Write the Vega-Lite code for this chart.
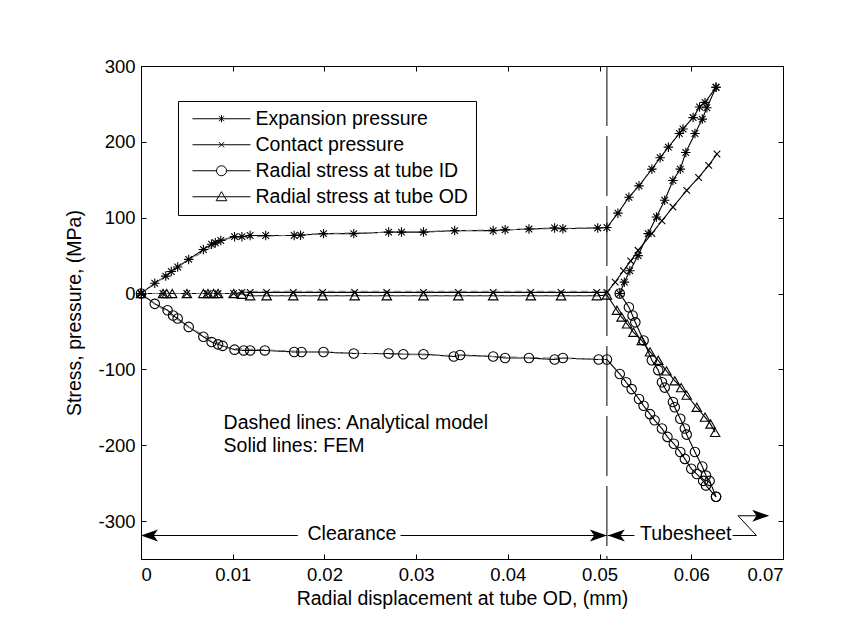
{
  "$schema": "https://vega.github.io/schema/vega-lite/v6.json",
  "width": 642,
  "height": 493,
  "autosize": {"type": "none"},
  "padding": {"left": 141, "top": 66, "right": 83, "bottom": 84},
  "background": "white",
  "config": {
    "font": "Liberation Sans",
    "view": {"stroke": "black", "strokeWidth": 1},
    "axis": {"domainColor": "black", "tickColor": "black", "labelColor": "black", "titleColor": "black", "grid": false, "labelFontSize": 18.5, "titleFontSize": 19.5, "titleFontWeight": "normal", "labelFont": "Liberation Sans", "titleFont": "Liberation Sans"}
  },
  "datasets": {
    "main": [
      {"series":"Expansion pressure","method":"FEM","branch":"a","x":0,"y":0},
      {"series":"Expansion pressure","method":"FEM","branch":"a","x":0.0015,"y":13.6},
      {"series":"Expansion pressure","method":"FEM","branch":"a","x":0.0027,"y":23},
      {"series":"Expansion pressure","method":"FEM","branch":"a","x":0.0033,"y":29},
      {"series":"Expansion pressure","method":"FEM","branch":"a","x":0.004,"y":35},
      {"series":"Expansion pressure","method":"FEM","branch":"a","x":0.0052,"y":45},
      {"series":"Expansion pressure","method":"FEM","branch":"a","x":0.0068,"y":58},
      {"series":"Expansion pressure","method":"FEM","branch":"a","x":0.0077,"y":65},
      {"series":"Expansion pressure","method":"FEM","branch":"a","x":0.0081,"y":67},
      {"series":"Expansion pressure","method":"FEM","branch":"a","x":0.0087,"y":70},
      {"series":"Expansion pressure","method":"FEM","branch":"a","x":0.0102,"y":75},
      {"series":"Expansion pressure","method":"FEM","branch":"a","x":0.011,"y":75},
      {"series":"Expansion pressure","method":"FEM","branch":"a","x":0.0119,"y":76.5},
      {"series":"Expansion pressure","method":"FEM","branch":"a","x":0.0136,"y":76.5},
      {"series":"Expansion pressure","method":"FEM","branch":"a","x":0.0167,"y":76.5},
      {"series":"Expansion pressure","method":"FEM","branch":"a","x":0.0174,"y":77},
      {"series":"Expansion pressure","method":"FEM","branch":"a","x":0.0199,"y":79},
      {"series":"Expansion pressure","method":"FEM","branch":"a","x":0.0232,"y":79},
      {"series":"Expansion pressure","method":"FEM","branch":"a","x":0.027,"y":81},
      {"series":"Expansion pressure","method":"FEM","branch":"a","x":0.0284,"y":81},
      {"series":"Expansion pressure","method":"FEM","branch":"a","x":0.0308,"y":81},
      {"series":"Expansion pressure","method":"FEM","branch":"a","x":0.0342,"y":83},
      {"series":"Expansion pressure","method":"FEM","branch":"a","x":0.0384,"y":83},
      {"series":"Expansion pressure","method":"FEM","branch":"a","x":0.0397,"y":84},
      {"series":"Expansion pressure","method":"FEM","branch":"a","x":0.0423,"y":85},
      {"series":"Expansion pressure","method":"FEM","branch":"a","x":0.0451,"y":86.5},
      {"series":"Expansion pressure","method":"FEM","branch":"a","x":0.046,"y":85.5},
      {"series":"Expansion pressure","method":"FEM","branch":"a","x":0.0498,"y":86.5},
      {"series":"Expansion pressure","method":"FEM","branch":"a","x":0.0508,"y":87},
      {"series":"Expansion pressure","method":"FEM","branch":"a","x":0.052,"y":106},
      {"series":"Expansion pressure","method":"FEM","branch":"a","x":0.0532,"y":127},
      {"series":"Expansion pressure","method":"FEM","branch":"a","x":0.0543,"y":142},
      {"series":"Expansion pressure","method":"FEM","branch":"a","x":0.0557,"y":164},
      {"series":"Expansion pressure","method":"FEM","branch":"a","x":0.0566,"y":179},
      {"series":"Expansion pressure","method":"FEM","branch":"a","x":0.0575,"y":193},
      {"series":"Expansion pressure","method":"FEM","branch":"a","x":0.0587,"y":211},
      {"series":"Expansion pressure","method":"FEM","branch":"a","x":0.0591,"y":217},
      {"series":"Expansion pressure","method":"FEM","branch":"a","x":0.0602,"y":232},
      {"series":"Expansion pressure","method":"FEM","branch":"a","x":0.0609,"y":246},
      {"series":"Expansion pressure","method":"FEM","branch":"a","x":0.0615,"y":252},
      {"series":"Expansion pressure","method":"FEM","branch":"a","x":0.0627,"y":272},
      {"series":"Expansion pressure","method":"FEM","branch":"b","x":0.0522,"y":0},
      {"series":"Expansion pressure","method":"FEM","branch":"b","x":0.0527,"y":15},
      {"series":"Expansion pressure","method":"FEM","branch":"b","x":0.0533,"y":30},
      {"series":"Expansion pressure","method":"FEM","branch":"b","x":0.0542,"y":50},
      {"series":"Expansion pressure","method":"FEM","branch":"b","x":0.0553,"y":79},
      {"series":"Expansion pressure","method":"FEM","branch":"b","x":0.0562,"y":101},
      {"series":"Expansion pressure","method":"FEM","branch":"b","x":0.0571,"y":123},
      {"series":"Expansion pressure","method":"FEM","branch":"b","x":0.058,"y":149},
      {"series":"Expansion pressure","method":"FEM","branch":"b","x":0.0588,"y":164},
      {"series":"Expansion pressure","method":"FEM","branch":"b","x":0.0594,"y":186},
      {"series":"Expansion pressure","method":"FEM","branch":"b","x":0.0604,"y":211},
      {"series":"Expansion pressure","method":"FEM","branch":"b","x":0.0612,"y":230},
      {"series":"Expansion pressure","method":"FEM","branch":"b","x":0.0617,"y":245},
      {"series":"Expansion pressure","method":"FEM","branch":"b","x":0.0627,"y":272},
      {"series":"Contact pressure","method":"FEM","branch":"a","x":0,"y":0},
      {"series":"Contact pressure","method":"FEM","branch":"a","x":0.0024,"y":0},
      {"series":"Contact pressure","method":"FEM","branch":"a","x":0.005,"y":0},
      {"series":"Contact pressure","method":"FEM","branch":"a","x":0.0073,"y":0},
      {"series":"Contact pressure","method":"FEM","branch":"a","x":0.0084,"y":0},
      {"series":"Contact pressure","method":"FEM","branch":"a","x":0.0101,"y":0},
      {"series":"Contact pressure","method":"FEM","branch":"a","x":0.011,"y":1.5},
      {"series":"Contact pressure","method":"FEM","branch":"a","x":0.0119,"y":1.5},
      {"series":"Contact pressure","method":"FEM","branch":"a","x":0.0137,"y":1.5},
      {"series":"Contact pressure","method":"FEM","branch":"a","x":0.0166,"y":1.5},
      {"series":"Contact pressure","method":"FEM","branch":"a","x":0.0198,"y":1.5},
      {"series":"Contact pressure","method":"FEM","branch":"a","x":0.0233,"y":1.5},
      {"series":"Contact pressure","method":"FEM","branch":"a","x":0.0268,"y":1.5},
      {"series":"Contact pressure","method":"FEM","branch":"a","x":0.0308,"y":1.5},
      {"series":"Contact pressure","method":"FEM","branch":"a","x":0.0346,"y":1.5},
      {"series":"Contact pressure","method":"FEM","branch":"a","x":0.0384,"y":1.5},
      {"series":"Contact pressure","method":"FEM","branch":"a","x":0.0425,"y":1.5},
      {"series":"Contact pressure","method":"FEM","branch":"a","x":0.0458,"y":1.5},
      {"series":"Contact pressure","method":"FEM","branch":"a","x":0.0497,"y":1.5},
      {"series":"Contact pressure","method":"FEM","branch":"a","x":0.0508,"y":1.5},
      {"series":"Contact pressure","method":"FEM","branch":"a","x":0.0517,"y":15},
      {"series":"Contact pressure","method":"FEM","branch":"a","x":0.0526,"y":30},
      {"series":"Contact pressure","method":"FEM","branch":"a","x":0.0534,"y":43},
      {"series":"Contact pressure","method":"FEM","branch":"a","x":0.0542,"y":57},
      {"series":"Contact pressure","method":"FEM","branch":"a","x":0.0557,"y":79},
      {"series":"Contact pressure","method":"FEM","branch":"a","x":0.0568,"y":96},
      {"series":"Contact pressure","method":"FEM","branch":"a","x":0.058,"y":114},
      {"series":"Contact pressure","method":"FEM","branch":"a","x":0.0595,"y":136},
      {"series":"Contact pressure","method":"FEM","branch":"a","x":0.0608,"y":153},
      {"series":"Contact pressure","method":"FEM","branch":"a","x":0.0619,"y":169},
      {"series":"Contact pressure","method":"FEM","branch":"a","x":0.0628,"y":184},
      {"series":"Radial stress at tube OD","method":"FEM","branch":"a","x":0,"y":0},
      {"series":"Radial stress at tube OD","method":"FEM","branch":"a","x":0.0024,"y":0},
      {"series":"Radial stress at tube OD","method":"FEM","branch":"a","x":0.0028,"y":0},
      {"series":"Radial stress at tube OD","method":"FEM","branch":"a","x":0.0034,"y":0},
      {"series":"Radial stress at tube OD","method":"FEM","branch":"a","x":0.005,"y":0},
      {"series":"Radial stress at tube OD","method":"FEM","branch":"a","x":0.0068,"y":0},
      {"series":"Radial stress at tube OD","method":"FEM","branch":"a","x":0.0073,"y":0},
      {"series":"Radial stress at tube OD","method":"FEM","branch":"a","x":0.0079,"y":0},
      {"series":"Radial stress at tube OD","method":"FEM","branch":"a","x":0.0084,"y":0},
      {"series":"Radial stress at tube OD","method":"FEM","branch":"a","x":0.0101,"y":0},
      {"series":"Radial stress at tube OD","method":"FEM","branch":"a","x":0.011,"y":-1},
      {"series":"Radial stress at tube OD","method":"FEM","branch":"a","x":0.0119,"y":-3},
      {"series":"Radial stress at tube OD","method":"FEM","branch":"a","x":0.0137,"y":-3},
      {"series":"Radial stress at tube OD","method":"FEM","branch":"a","x":0.0166,"y":-3},
      {"series":"Radial stress at tube OD","method":"FEM","branch":"a","x":0.0198,"y":-3},
      {"series":"Radial stress at tube OD","method":"FEM","branch":"a","x":0.0233,"y":-3},
      {"series":"Radial stress at tube OD","method":"FEM","branch":"a","x":0.0268,"y":-3},
      {"series":"Radial stress at tube OD","method":"FEM","branch":"a","x":0.0308,"y":-3},
      {"series":"Radial stress at tube OD","method":"FEM","branch":"a","x":0.0346,"y":-3},
      {"series":"Radial stress at tube OD","method":"FEM","branch":"a","x":0.0384,"y":-3},
      {"series":"Radial stress at tube OD","method":"FEM","branch":"a","x":0.0425,"y":-3},
      {"series":"Radial stress at tube OD","method":"FEM","branch":"a","x":0.0458,"y":-3},
      {"series":"Radial stress at tube OD","method":"FEM","branch":"a","x":0.0497,"y":-3},
      {"series":"Radial stress at tube OD","method":"FEM","branch":"a","x":0.0508,"y":-2},
      {"series":"Radial stress at tube OD","method":"FEM","branch":"a","x":0.0519,"y":-22},
      {"series":"Radial stress at tube OD","method":"FEM","branch":"a","x":0.0524,"y":-31},
      {"series":"Radial stress at tube OD","method":"FEM","branch":"a","x":0.053,"y":-40},
      {"series":"Radial stress at tube OD","method":"FEM","branch":"a","x":0.0537,"y":-51},
      {"series":"Radial stress at tube OD","method":"FEM","branch":"a","x":0.0546,"y":-62},
      {"series":"Radial stress at tube OD","method":"FEM","branch":"a","x":0.0555,"y":-77},
      {"series":"Radial stress at tube OD","method":"FEM","branch":"a","x":0.0564,"y":-88},
      {"series":"Radial stress at tube OD","method":"FEM","branch":"a","x":0.0573,"y":-102},
      {"series":"Radial stress at tube OD","method":"FEM","branch":"a","x":0.0582,"y":-115},
      {"series":"Radial stress at tube OD","method":"FEM","branch":"a","x":0.0589,"y":-124},
      {"series":"Radial stress at tube OD","method":"FEM","branch":"a","x":0.0595,"y":-134},
      {"series":"Radial stress at tube OD","method":"FEM","branch":"a","x":0.0606,"y":-150},
      {"series":"Radial stress at tube OD","method":"FEM","branch":"a","x":0.0615,"y":-163},
      {"series":"Radial stress at tube OD","method":"FEM","branch":"a","x":0.0621,"y":-172},
      {"series":"Radial stress at tube OD","method":"FEM","branch":"a","x":0.0626,"y":-183},
      {"series":"Radial stress at tube ID","method":"FEM","branch":"a","x":0,"y":0},
      {"series":"Radial stress at tube ID","method":"FEM","branch":"a","x":0.0015,"y":-13.6},
      {"series":"Radial stress at tube ID","method":"FEM","branch":"a","x":0.0029,"y":-22},
      {"series":"Radial stress at tube ID","method":"FEM","branch":"a","x":0.0035,"y":-29},
      {"series":"Radial stress at tube ID","method":"FEM","branch":"a","x":0.004,"y":-33},
      {"series":"Radial stress at tube ID","method":"FEM","branch":"a","x":0.0052,"y":-44},
      {"series":"Radial stress at tube ID","method":"FEM","branch":"a","x":0.0068,"y":-57},
      {"series":"Radial stress at tube ID","method":"FEM","branch":"a","x":0.0077,"y":-64},
      {"series":"Radial stress at tube ID","method":"FEM","branch":"a","x":0.0084,"y":-67},
      {"series":"Radial stress at tube ID","method":"FEM","branch":"a","x":0.0089,"y":-69},
      {"series":"Radial stress at tube ID","method":"FEM","branch":"a","x":0.0102,"y":-74},
      {"series":"Radial stress at tube ID","method":"FEM","branch":"a","x":0.0112,"y":-75},
      {"series":"Radial stress at tube ID","method":"FEM","branch":"a","x":0.0119,"y":-75},
      {"series":"Radial stress at tube ID","method":"FEM","branch":"a","x":0.0135,"y":-75},
      {"series":"Radial stress at tube ID","method":"FEM","branch":"a","x":0.0167,"y":-77},
      {"series":"Radial stress at tube ID","method":"FEM","branch":"a","x":0.0175,"y":-77},
      {"series":"Radial stress at tube ID","method":"FEM","branch":"a","x":0.0199,"y":-77},
      {"series":"Radial stress at tube ID","method":"FEM","branch":"a","x":0.0232,"y":-79},
      {"series":"Radial stress at tube ID","method":"FEM","branch":"a","x":0.027,"y":-79},
      {"series":"Radial stress at tube ID","method":"FEM","branch":"a","x":0.0286,"y":-80},
      {"series":"Radial stress at tube ID","method":"FEM","branch":"a","x":0.0308,"y":-80},
      {"series":"Radial stress at tube ID","method":"FEM","branch":"a","x":0.0341,"y":-83},
      {"series":"Radial stress at tube ID","method":"FEM","branch":"a","x":0.0348,"y":-81},
      {"series":"Radial stress at tube ID","method":"FEM","branch":"a","x":0.0384,"y":-83},
      {"series":"Radial stress at tube ID","method":"FEM","branch":"a","x":0.0397,"y":-85},
      {"series":"Radial stress at tube ID","method":"FEM","branch":"a","x":0.0423,"y":-85},
      {"series":"Radial stress at tube ID","method":"FEM","branch":"a","x":0.0451,"y":-87},
      {"series":"Radial stress at tube ID","method":"FEM","branch":"a","x":0.046,"y":-85},
      {"series":"Radial stress at tube ID","method":"FEM","branch":"a","x":0.0499,"y":-87},
      {"series":"Radial stress at tube ID","method":"FEM","branch":"a","x":0.0508,"y":-87},
      {"series":"Radial stress at tube ID","method":"FEM","branch":"a","x":0.0522,"y":-106},
      {"series":"Radial stress at tube ID","method":"FEM","branch":"a","x":0.0529,"y":-117},
      {"series":"Radial stress at tube ID","method":"FEM","branch":"a","x":0.0535,"y":-126},
      {"series":"Radial stress at tube ID","method":"FEM","branch":"a","x":0.0543,"y":-139},
      {"series":"Radial stress at tube ID","method":"FEM","branch":"a","x":0.0548,"y":-148},
      {"series":"Radial stress at tube ID","method":"FEM","branch":"a","x":0.0555,"y":-159},
      {"series":"Radial stress at tube ID","method":"FEM","branch":"a","x":0.056,"y":-167},
      {"series":"Radial stress at tube ID","method":"FEM","branch":"a","x":0.0568,"y":-178},
      {"series":"Radial stress at tube ID","method":"FEM","branch":"a","x":0.0574,"y":-189},
      {"series":"Radial stress at tube ID","method":"FEM","branch":"a","x":0.0581,"y":-198},
      {"series":"Radial stress at tube ID","method":"FEM","branch":"a","x":0.0588,"y":-209},
      {"series":"Radial stress at tube ID","method":"FEM","branch":"a","x":0.0593,"y":-218},
      {"series":"Radial stress at tube ID","method":"FEM","branch":"a","x":0.06,"y":-231},
      {"series":"Radial stress at tube ID","method":"FEM","branch":"a","x":0.0606,"y":-238},
      {"series":"Radial stress at tube ID","method":"FEM","branch":"a","x":0.0613,"y":-247},
      {"series":"Radial stress at tube ID","method":"FEM","branch":"a","x":0.0616,"y":-253},
      {"series":"Radial stress at tube ID","method":"FEM","branch":"a","x":0.0627,"y":-268},
      {"series":"Radial stress at tube ID","method":"FEM","branch":"b","x":0.0522,"y":0},
      {"series":"Radial stress at tube ID","method":"FEM","branch":"b","x":0.0532,"y":-18},
      {"series":"Radial stress at tube ID","method":"FEM","branch":"b","x":0.0536,"y":-29},
      {"series":"Radial stress at tube ID","method":"FEM","branch":"b","x":0.0539,"y":-38},
      {"series":"Radial stress at tube ID","method":"FEM","branch":"b","x":0.0548,"y":-62},
      {"series":"Radial stress at tube ID","method":"FEM","branch":"b","x":0.0557,"y":-88},
      {"series":"Radial stress at tube ID","method":"FEM","branch":"b","x":0.0564,"y":-101},
      {"series":"Radial stress at tube ID","method":"FEM","branch":"b","x":0.0568,"y":-117},
      {"series":"Radial stress at tube ID","method":"FEM","branch":"b","x":0.0571,"y":-124},
      {"series":"Radial stress at tube ID","method":"FEM","branch":"b","x":0.058,"y":-143},
      {"series":"Radial stress at tube ID","method":"FEM","branch":"b","x":0.0582,"y":-150},
      {"series":"Radial stress at tube ID","method":"FEM","branch":"b","x":0.0588,"y":-165},
      {"series":"Radial stress at tube ID","method":"FEM","branch":"b","x":0.0593,"y":-178},
      {"series":"Radial stress at tube ID","method":"FEM","branch":"b","x":0.0595,"y":-186},
      {"series":"Radial stress at tube ID","method":"FEM","branch":"b","x":0.0604,"y":-209},
      {"series":"Radial stress at tube ID","method":"FEM","branch":"b","x":0.0612,"y":-228},
      {"series":"Radial stress at tube ID","method":"FEM","branch":"b","x":0.0616,"y":-240},
      {"series":"Radial stress at tube ID","method":"FEM","branch":"b","x":0.062,"y":-247},
      {"series":"Radial stress at tube ID","method":"FEM","branch":"b","x":0.0627,"y":-268},
      {"series":"Expansion pressure","method":"Analytical","branch":"a","x":0,"y":0},
      {"series":"Expansion pressure","method":"Analytical","branch":"a","x":0.005,"y":43},
      {"series":"Expansion pressure","method":"Analytical","branch":"a","x":0.0095,"y":73},
      {"series":"Expansion pressure","method":"Analytical","branch":"a","x":0.02,"y":79},
      {"series":"Expansion pressure","method":"Analytical","branch":"a","x":0.035,"y":83},
      {"series":"Expansion pressure","method":"Analytical","branch":"a","x":0.0508,"y":87},
      {"series":"Contact pressure","method":"Analytical","branch":"a","x":0,"y":0},
      {"series":"Contact pressure","method":"Analytical","branch":"a","x":0.0105,"y":0},
      {"series":"Contact pressure","method":"Analytical","branch":"a","x":0.012,"y":3},
      {"series":"Contact pressure","method":"Analytical","branch":"a","x":0.0508,"y":3},
      {"series":"Radial stress at tube OD","method":"Analytical","branch":"a","x":0,"y":0},
      {"series":"Radial stress at tube OD","method":"Analytical","branch":"a","x":0.0105,"y":0},
      {"series":"Radial stress at tube OD","method":"Analytical","branch":"a","x":0.012,"y":-3},
      {"series":"Radial stress at tube OD","method":"Analytical","branch":"a","x":0.0508,"y":-3},
      {"series":"Radial stress at tube ID","method":"Analytical","branch":"a","x":0,"y":0},
      {"series":"Radial stress at tube ID","method":"Analytical","branch":"a","x":0.005,"y":-43},
      {"series":"Radial stress at tube ID","method":"Analytical","branch":"a","x":0.0095,"y":-72},
      {"series":"Radial stress at tube ID","method":"Analytical","branch":"a","x":0.02,"y":-78},
      {"series":"Radial stress at tube ID","method":"Analytical","branch":"a","x":0.035,"y":-82},
      {"series":"Radial stress at tube ID","method":"Analytical","branch":"a","x":0.0508,"y":-87}
    ],
    "guides": [
      {"seg":"c1","i":1,"x":0,"y":-319},
      {"seg":"c1","i":2,"x":0.0171,"y":-319},
      {"seg":"c2","i":1,"x":0.0283,"y":-319},
      {"seg":"c2","i":2,"x":0.0508,"y":-319},
      {"seg":"t1","i":1,"x":0.0509,"y":-319},
      {"seg":"t1","i":2,"x":0.0538,"y":-319},
      {"seg":"t2","i":1,"x":0.0645,"y":-319},
      {"seg":"t2","i":2,"x":0.0671,"y":-319},
      {"seg":"t2","i":3,"x":0.0651,"y":-293},
      {"seg":"t2","i":4,"x":0.0683,"y":-293}
    ],
    "heads": [
      {"dir":"left","x":0,"y":-319},
      {"dir":"right","x":0.0508,"y":-319},
      {"dir":"left","x":0.0509,"y":-319},
      {"dir":"right","x":0.0685,"y":-293}
    ],
    "labels": [
      {"text":"Clearance","align":"center","x":0.023,"y":-317},
      {"text":"Tubesheet","align":"center","x":0.0594,"y":-317},
      {"text":"Dashed lines: Analytical model","align":"left","x":0.009,"y":-171},
      {"text":"Solid lines: FEM","align":"left","x":0.009,"y":-201}
    ]
  },
  "resolve": {"axis": {"x": "independent", "y": "independent"}, "scale": {"shape": "independent"}},
  "layer": [
    {
      "data": {"name": "main"},
      "mark": {"type": "line", "strokeWidth": 1.1},
      "encoding": {
        "x": {"field": "x", "type": "quantitative", "scale": {"domain": [0, 0.07], "nice": false, "zero": false},
              "axis": {"title": "Radial displacement at tube OD, (mm)", "values": [0,0.01,0.02,0.03,0.04,0.05,0.06,0.07], "format": ".2~f", "tickSize": -5, "labelPadding": 11, "titlePadding": 6, "domain": true}},
        "y": {"field": "y", "type": "quantitative", "scale": {"domain": [-350, 300], "nice": false, "zero": false},
              "axis": {"title": "Stress, pressure, (MPa)", "values": [-300,-200,-100,0,100,200,300], "labelExpr": "replace(datum.label, '\u2212', '-')", "tickSize": -5, "labelPadding": 11, "titlePadding": 13}},
        "detail": [{"field": "series"}, {"field": "branch"}],
        "color": {"field": "method", "type": "nominal", "scale": {"domain": ["FEM", "Analytical"], "range": ["#000000", "#7a7a7a"]}, "legend": null},
        "strokeDash": {"field": "method", "type": "nominal", "scale": {"domain": ["FEM", "Analytical"], "range": [[1, 0], [7, 4]]}, "legend": null}
      }
    },
    {
      "data": {"name": "main"},
      "transform": [{"filter": "datum.method === 'FEM'"}],
      "mark": {"type": "point", "filled": false, "strokeWidth": 1.1, "color": "black", "size": 90, "opacity": 1},
      "encoding": {
        "x": {"field": "x", "type": "quantitative", "axis": {"orient": "top", "labels": false, "title": null, "values": [0,0.01,0.02,0.03,0.04,0.05,0.06,0.07], "tickSize": -5, "domain": false}},
        "y": {"field": "y", "type": "quantitative", "axis": {"orient": "right", "labels": false, "title": null, "values": [-300,-200,-100,0,100,200,300], "tickSize": -5, "domain": false}},
        "shape": {"field": "series", "type": "nominal",
          "scale": {"domain": ["Expansion pressure", "Contact pressure", "Radial stress at tube ID", "Radial stress at tube OD"],
                    "range": ["M-1,0L1,0M0,-1L0,1M-0.7,-0.7L0.7,0.7M-0.7,0.7L0.7,-0.7", "M-0.7,-0.7L0.7,0.7M-0.7,0.7L0.7,-0.7", "circle", "triangle-up"]},
          "legend": null}
      }
    },
    {
      "data": {"name": "main"},
      "transform": [{"filter": "datum.method === 'none'"}],
      "mark": {"type": "point", "filled": false, "strokeWidth": 1, "color": "black", "size": 210, "opacity": 1},
      "encoding": {
        "x": {"field": "x", "type": "quantitative", "axis": null},
        "y": {"field": "y", "type": "quantitative", "axis": null},
        "shape": {"field": "series", "type": "nominal",
          "scale": {"domain": ["Expansion pressure", "Contact pressure", "Radial stress at tube ID", "Radial stress at tube OD"],
                    "range": ["M-1,0L7,0M3,-0.5L3,0.5M2.65,-0.35L3.35,0.35M2.65,0.35L3.35,-0.35", "M-1,0L7,0M2.63,-0.37L3.37,0.37M2.63,0.37L3.37,-0.37", "M-1,0L2.31,0M3.69,0L7,0M2.31,0A0.69,0.69,0,0,1,3.69,0A0.69,0.69,0,0,1,2.31,0", "M-1,0L7,0M2.26,0.55L3.74,0.55L3,-0.7Z"]},
          "legend": {
            "title": null, "orient": "none", "legendX": 37, "legendY": 35,
            "strokeColor": "black", "fillColor": "white", "padding": 8,
            "symbolSize": 210, "symbolOffset": 4, "labelOffset": 46, "rowPadding": 5,
            "labelFontSize": 19.5, "labelFont": "Liberation Sans", "labelColor": "black", "labelLimit": 400,
            "symbolStrokeColor": "black", "symbolFillColor": "transparent", "symbolStrokeWidth": 1, "symbolOpacity": 1
          }
        }
      }
    },
    {
      "data": {"values": [{"x": 0.0508}]},
      "mark": {"type": "rule", "color": "black", "strokeWidth": 1, "strokeDash": [60, 10]},
      "encoding": {"x": {"field": "x", "type": "quantitative", "axis": null}}
    },
    {
      "data": {"name": "guides"},
      "mark": {"type": "line", "color": "black", "strokeWidth": 1},
      "encoding": {
        "x": {"field": "x", "type": "quantitative", "axis": null},
        "y": {"field": "y", "type": "quantitative", "axis": null},
        "detail": {"field": "seg"},
        "order": {"field": "i", "type": "quantitative"}
      }
    },
    {
      "data": {"name": "heads"},
      "transform": [{"filter": "datum.dir === 'right'"}],
      "mark": {"type": "point", "filled": true, "color": "black", "opacity": 1, "size": 289, "shape": "M0,0L-2,-0.7L-1.5,0L-2,0.7Z"},
      "encoding": {
        "x": {"field": "x", "type": "quantitative", "axis": null},
        "y": {"field": "y", "type": "quantitative", "axis": null}
      }
    },
    {
      "data": {"name": "heads"},
      "transform": [{"filter": "datum.dir === 'left'"}],
      "mark": {"type": "point", "filled": true, "color": "black", "opacity": 1, "size": 289, "shape": "M0,0L2,-0.7L1.5,0L2,0.7Z"},
      "encoding": {
        "x": {"field": "x", "type": "quantitative", "axis": null},
        "y": {"field": "y", "type": "quantitative", "axis": null}
      }
    },
    {
      "data": {"name": "labels"},
      "transform": [{"filter": "datum.align === 'center'"}],
      "mark": {"type": "text", "align": "center", "baseline": "middle", "fontSize": 19.5, "font": "Liberation Sans", "color": "black"},
      "encoding": {
        "x": {"field": "x", "type": "quantitative", "axis": null},
        "y": {"field": "y", "type": "quantitative", "axis": null},
        "text": {"field": "text"}
      }
    },
    {
      "data": {"name": "labels"},
      "transform": [{"filter": "datum.align === 'left'"}],
      "mark": {"type": "text", "align": "left", "baseline": "middle", "fontSize": 19.5, "font": "Liberation Sans", "color": "black"},
      "encoding": {
        "x": {"field": "x", "type": "quantitative", "axis": null},
        "y": {"field": "y", "type": "quantitative", "axis": null},
        "text": {"field": "text"}
      }
    }
  ]
}
